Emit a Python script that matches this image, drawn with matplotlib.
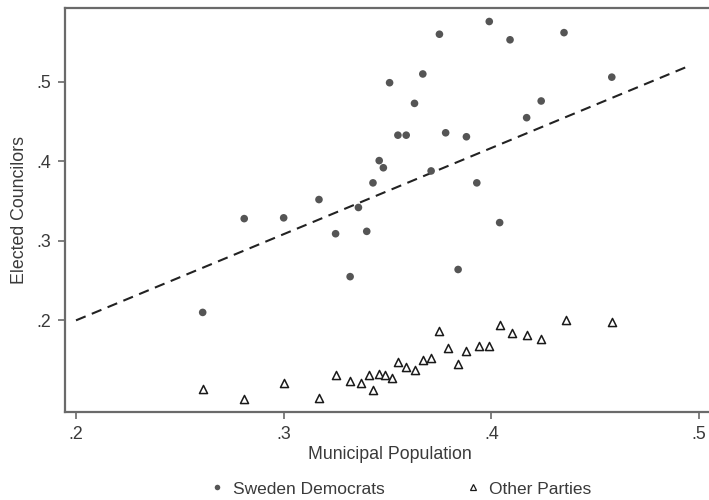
import matplotlib
matplotlib.use("Agg")
import matplotlib.pyplot as plt
from matplotlib.lines import Line2D

plt.rcParams["font.family"] = ["Liberation Sans", "DejaVu Sans"]

# municipal population share (x) and elected councilors share (y)
sd_x = [0.261, 0.281, 0.300, 0.317, 0.325, 0.332, 0.336, 0.340, 0.343, 0.346,
        0.348, 0.351, 0.355, 0.359, 0.363, 0.367, 0.371, 0.375, 0.378, 0.384,
        0.388, 0.393, 0.399, 0.404, 0.409, 0.417, 0.424, 0.435, 0.458]
sd_y = [0.210, 0.328, 0.329, 0.352, 0.309, 0.255, 0.342, 0.312, 0.373, 0.401,
        0.392, 0.499, 0.433, 0.433, 0.473, 0.510, 0.388, 0.560, 0.436, 0.264,
        0.431, 0.373, 0.576, 0.323, 0.553, 0.455, 0.476, 0.562, 0.506]

op_x = [0.261, 0.281, 0.300, 0.317, 0.325, 0.332, 0.337, 0.341, 0.343, 0.346,
        0.349, 0.352, 0.355, 0.359, 0.363, 0.367, 0.371, 0.375, 0.379, 0.384,
        0.388, 0.394, 0.399, 0.404, 0.410, 0.417, 0.424, 0.436, 0.458]
op_y = [0.114, 0.101, 0.121, 0.102, 0.131, 0.124, 0.121, 0.131, 0.113, 0.132,
        0.131, 0.128, 0.147, 0.141, 0.138, 0.150, 0.153, 0.186, 0.165, 0.145,
        0.161, 0.168, 0.168, 0.194, 0.184, 0.181, 0.177, 0.201, 0.198]

# fitted reference line endpoints
fit_x = [0.200, 0.496]
fit_y = [0.200, 0.521]

TEXT = "#3a3a3a"
SPINE = "#6a6a6a"

fig = plt.figure(figsize=(7.09, 5.00), dpi=100)
ax = fig.add_axes([65 / 709, 1 - 412 / 500, (715 - 65) / 709, 404 / 500])

ax.plot(fit_x, fit_y, color="#222222", ls=(0, (5, 3.2)), lw=1.5, zorder=2)
ax.scatter(sd_x, sd_y, s=30, color="#555555", edgecolors="none", zorder=3)
ax.scatter(op_x, op_y, s=34, marker="^", facecolors="white",
           edgecolors="#1a1a1a", linewidths=1.1, zorder=3)

ax.set_xlim(0.1947, 0.5077)
ax.set_ylim(0.0847, 0.593)
ax.set_xticks([0.2, 0.3, 0.4, 0.5])
ax.set_xticklabels([".2", ".3", ".4", ".5"])
ax.set_yticks([0.2, 0.3, 0.4, 0.5])
ax.set_yticklabels([".2", ".3", ".4", ".5"])

for side in ["left", "bottom", "top"]:
    ax.spines[side].set_color(SPINE)
    ax.spines[side].set_linewidth(1.6)
ax.spines["right"].set_visible(False)
ax.tick_params(direction="out", length=5, width=1.2, color=SPINE,
               labelcolor=TEXT, labelsize=12.8, pad=5)

ax.set_xlabel("Municipal Population", fontsize=12.8, color=TEXT, labelpad=2)
ax.set_ylabel("Elected Councilors", fontsize=12.8, color=TEXT, labelpad=6)

handles = [
    Line2D([], [], ls="none", marker="o", ms=4, color="#555555",
           markeredgecolor="none", label="Sweden Democrats"),
    Line2D([], [], ls="none", marker="^", ms=5, markerfacecolor="white",
           markeredgecolor="#1a1a1a", markeredgewidth=0.9, label="Other Parties"),
]
fig.legend(handles=handles, loc="center", bbox_to_anchor=(400 / 709, 1 - 489 / 500),
           ncol=2, frameon=False, fontsize=12.5, labelcolor=TEXT,
           handletextpad=0.4, columnspacing=4.6, handlelength=1.0)

fig.savefig("out.png", dpi=100)
